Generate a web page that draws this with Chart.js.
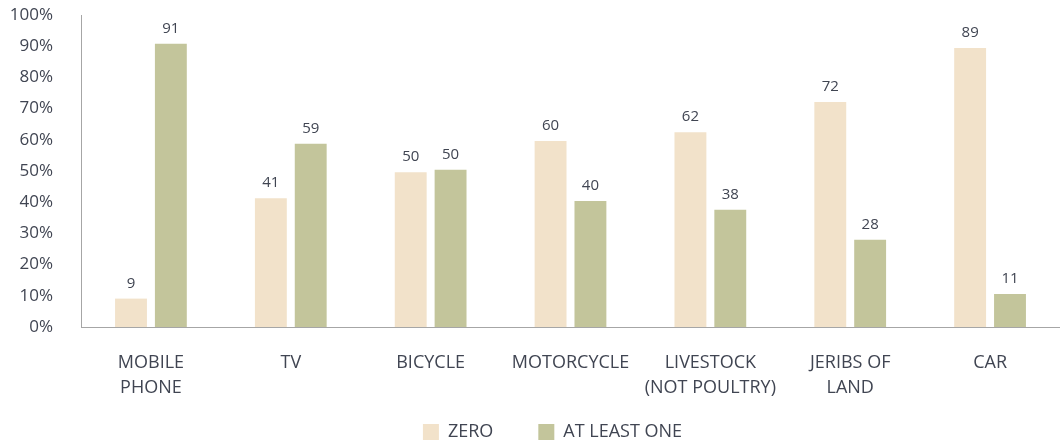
<!DOCTYPE html>
<html>
<head>
<meta charset="utf-8">
<script src="https://cdn.jsdelivr.net/npm/chart.js@4"></script>
<style>
  html, body { margin: 0; padding: 0; background: #fff; }
  #wrap { width: 1060px; height: 446px; }
</style>
</head>
<body>
<div id="wrap"><canvas id="assetChart" width="1060" height="446"></canvas></div>
<script>
const categories = [
  ['MOBILE', 'PHONE'],
  'TV',
  'BICYCLE',
  'MOTORCYCLE',
  ['LIVESTOCK', '(NOT POULTRY)'],
  ['JERIBS OF', 'LAND'],
  'CAR'
];
// Balkenhöhen, Beschriftung = gerundeter Wert
const zeroValues = [9.1, 41.3, 49.6, 59.6, 62.4, 72.1, 89.4];
const atLeastOneValues = [90.8, 58.7, 50.4, 40.4, 37.6, 28.0, 10.6];
const seriesNames = ['ZERO', 'AT LEAST ONE'];
const yTicks = [0, 10, 20, 30, 40, 50, 60, 70, 80, 90, 100];

const textColor = '#404552';
const axisColor = '#a6a6a6';
const fontFamily = '"Open Sans", Lato, sans-serif';

// Werte über die Balken schreiben
const valueLabels = {
  id: 'valueLabels',
  afterDatasetsDraw(chart) {
    const c = chart.ctx;
    c.save();
    c.font = '15px ' + fontFamily;
    c.fillStyle = textColor;
    c.textAlign = 'center';
    c.textBaseline = 'alphabetic';
    chart.data.datasets.forEach((ds, i) => {
      chart.getDatasetMeta(i).data.forEach((bar, j) => {
        c.fillText(Math.round(ds.data[j]), bar.x, bar.y - 11);
      });
    });
    c.restore();
  }
};

// Legende etwas verschieben (Abstand zwischen Einträgen = padding)
const legendShift = {
  id: 'legendShift',
  afterLayout(chart) {
    const lg = chart.legend;
    lg.top -= 24; lg.bottom -= 24;
    lg.left += 20; lg.right += 20;
  }
};

const ctx = document.getElementById('assetChart').getContext('2d');
new Chart(ctx, {
  type: 'bar',
  data: {
    labels: categories,
    datasets: [
      {
        label: seriesNames[0],
        data: zeroValues,
        backgroundColor: '#f2e2ca'
      },
      {
        label: seriesNames[1],
        data: atLeastOneValues,
        backgroundColor: '#c3c59b'
      }
    ]
  },
  options: {
    responsive: false,
    animation: false,
    layout: {
      autoPadding: false,
      padding: { top: 15, right: -5, left: 0, bottom: -29 }
    },
    datasets: {
      bar: { categoryPercentage: 0.57, barPercentage: 0.8 }
    },
    plugins: {
      legend: {
        position: 'bottom',
        labels: {
          color: textColor,
          font: { family: fontFamily, size: 18 },
          boxWidth: 16,
          boxHeight: 16,
          padding: 45
        }
      },
      tooltip: { enabled: false }
    },
    scales: {
      x: {
        grid: { display: false, drawTicks: false },
        border: { color: axisColor, width: 1 },
        ticks: {
          color: textColor,
          font: { family: fontFamily, size: 18, lineHeight: 1.39 },
          padding: 23,
          maxRotation: 0,
          autoSkip: false
        },
        afterFit(scale) {
          scale.height = 75;
          scale.paddingLeft = 0;
          scale.paddingRight = 0;
        }
      },
      y: {
        min: 0,
        max: 100,
        grid: { display: false, drawTicks: false },
        border: { color: axisColor, width: 1 },
        afterBuildTicks(scale) {
          scale.ticks = yTicks.map(v => ({ value: v }));
        },
        ticks: {
          color: textColor,
          font: { family: fontFamily, size: 17 },
          padding: 28,
          callback: v => v + '%'
        },
        afterFit(scale) {
          scale.width = 81;
          scale.paddingTop = 0;
          scale.paddingBottom = 0;
        }
      }
    }
  },
  plugins: [valueLabels, legendShift]
});
</script>
</body>
</html>
